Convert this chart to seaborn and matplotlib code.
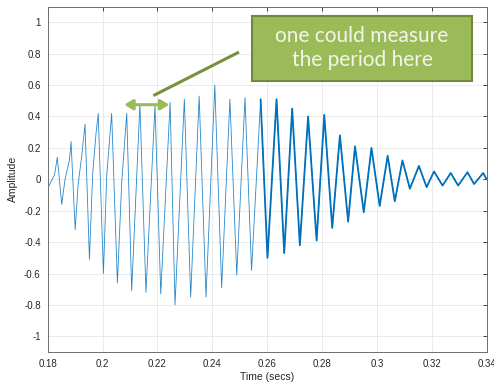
import matplotlib.pyplot as plt
import seaborn as sns
import pandas as pd
from matplotlib.patches import FancyBboxPatch

# extrema (and a few shoulders)
time_s = [0.1802, 0.1825, 0.1835, 0.1851, 0.1863, 0.1879, 0.1885, 0.1900,
          0.1911, 0.1924, 0.1936, 0.1952, 0.1964, 0.1976, 0.1984, 0.2003,
          0.2015, 0.2033, 0.2054, 0.2070, 0.2088, 0.2106, 0.2136, 0.2158,
          0.2191, 0.2212, 0.2246, 0.2264, 0.2298, 0.2321, 0.2352, 0.2377,
          0.2409, 0.2434, 0.2464, 0.2489, 0.2519, 0.2543, 0.2576, 0.2601,
          0.2634, 0.2662, 0.2691, 0.2719, 0.2749, 0.2780, 0.2808, 0.2837,
          0.2865, 0.2895, 0.2920, 0.2952, 0.2980, 0.3010, 0.3039, 0.3065,
          0.3093, 0.3120, 0.3153, 0.3181, 0.3208, 0.3239, 0.3269, 0.3296,
          0.3330, 0.3354, 0.3387, 0.3400]
amplitude = [-0.05, 0.03, 0.14, -0.16, 0.00, 0.12, 0.24, -0.32,
             -0.03, 0.15, 0.35, -0.51, 0.04, 0.29, 0.42, -0.60,
             0.02, 0.42, -0.66, -0.01, 0.42, -0.71, 0.48, -0.72,
             0.47, -0.73, 0.49, -0.80, 0.51, -0.75, 0.53, -0.75,
             0.60, -0.69, 0.51, -0.61, 0.52, -0.58, 0.51, -0.50,
             0.51, -0.47, 0.45, -0.42, 0.40, -0.39, 0.41, -0.31,
             0.28, -0.27, 0.21, -0.21, 0.20, -0.17, 0.15, -0.14,
             0.12, -0.06, 0.085, -0.05, 0.05, -0.04, 0.04, -0.04,
             0.045, -0.03, 0.04, 0.00]

x_ticks = [0.18, 0.2, 0.22, 0.24, 0.26, 0.28, 0.3, 0.32, 0.34]
x_labels = ["0.18", "0.2", "0.22", "0.24", "0.26", "0.28", "0.3", "0.32", "0.34"]
y_ticks = [-1, -0.8, -0.6, -0.4, -0.2, 0, 0.2, 0.4, 0.6, 0.8, 1]
y_labels = ["-1", "-0.8", "-0.6", "-0.4", "-0.2", "0", "0.2", "0.4", "0.6", "0.8", "1"]

df = pd.DataFrame({"time": time_s, "amp": amplitude})

sns.set_style("white")
plt.rcParams['font.family'] = ['Liberation Sans', 'DejaVu Sans']

fig = plt.figure(figsize=(4.94, 3.87), dpi=100)
ax = fig.add_axes([0.0966, 0.0904, 0.8886, 0.8926])

blue = "#0072BD"
sns.lineplot(data=df, x="time", y="amp", color=blue, linewidth=0.6,
             alpha=0.85, ax=ax)
# the noisy tail looks thicker
sns.lineplot(data=df[df["time"] >= 0.2576], x="time", y="amp", color=blue,
             linewidth=1.3, ax=ax)

ax.set_xlim(0.18, 0.34)
ax.set_ylim(-1.1, 1.1)
ax.set_xticks(x_ticks)
ax.set_xticklabels(x_labels)
ax.set_yticks(y_ticks)
ax.set_yticklabels(y_labels)
ax.grid(True, color="#ebebeb", linewidth=0.7)
ax.set_axisbelow(True)
ax.tick_params(direction="in", length=3, width=0.6, labelsize=7,
               colors="#262626", top=True, right=True, pad=5)
for s in ax.spines.values():
    s.set_color("#6e6e6e")
    s.set_linewidth(0.7)
ax.set_xlabel("Time (secs)", fontsize=7.5, labelpad=2)
ax.set_ylabel("Amplitude", fontsize=7.5, labelpad=4)

# callout box
box = FancyBboxPatch((251.5 / 494, 1 - 81 / 387), 220 / 494, 65 / 387,
                     boxstyle="square,pad=0", transform=fig.transFigure,
                     facecolor="#9BBB59", edgecolor="#71893F", linewidth=1.5,
                     zorder=5)
fig.patches.append(box)
fig.text(362 / 494, 1 - 48.5 / 387, "one could measure\nthe period here",
         ha="center", va="center", color="#f2f5ea", fontsize=15,
         family=["Lato", "DejaVu Sans"], linespacing=1.25, zorder=6)

# pointer line and period arrow
ax.plot([0.2185, 0.2497], [0.533, 0.81], color="#76923C", linewidth=2.2,
        solid_capstyle="butt", zorder=4)
ax.annotate("", xy=(0.2079, 0.475), xytext=(0.2243, 0.475),
            arrowprops=dict(arrowstyle="<|-|>,head_length=0.5,head_width=0.3",
                            color="#9BBB59", lw=2.2, shrinkA=0, shrinkB=0),
            zorder=4)

plt.savefig("out.png", dpi=100)
